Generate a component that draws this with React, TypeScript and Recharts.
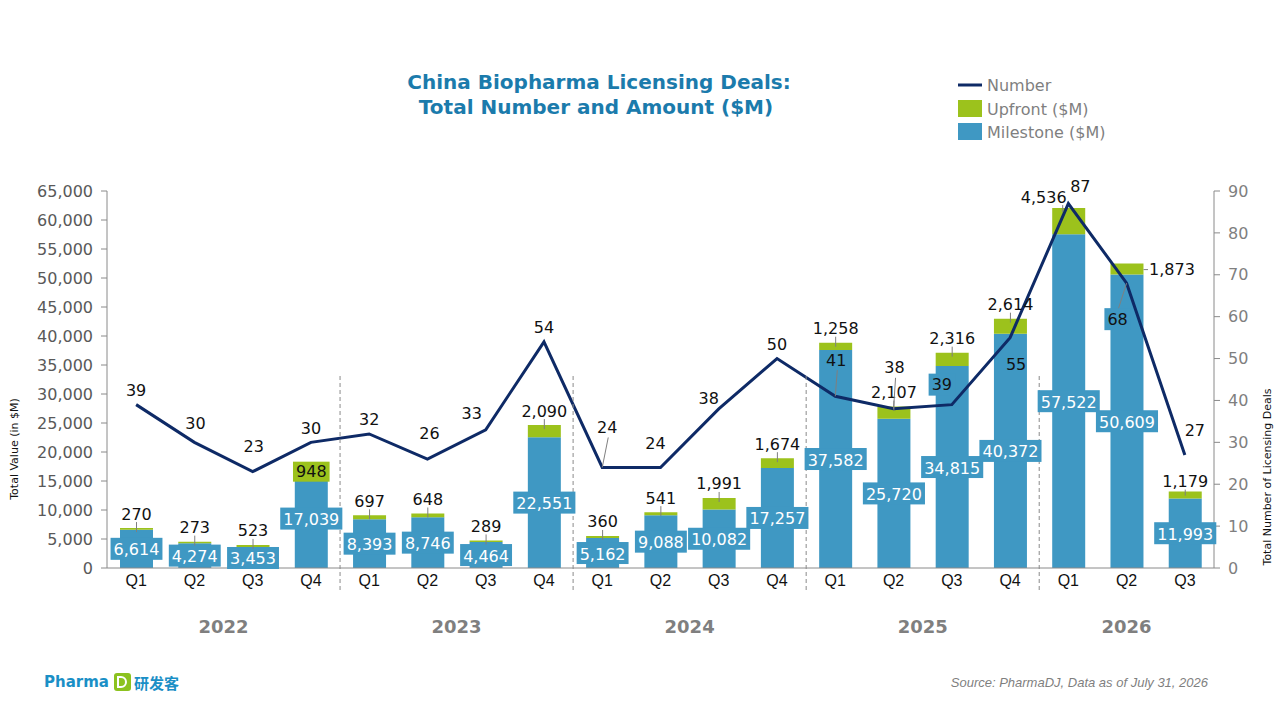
import React from "react";
import { Bar, ComposedChart, LabelList, Line, XAxis, YAxis } from "recharts";

// chart data
const yearLabels = ["2022", "2022", "2022", "2022", "2023", "2023", "2023", "2023", "2024", "2024", "2024", "2024", "2025", "2025", "2025", "2025", "2026", "2026", "2026"];
const quarterLabels = ["Q1", "Q2", "Q3", "Q4", "Q1", "Q2", "Q3", "Q4", "Q1", "Q2", "Q3", "Q4", "Q1", "Q2", "Q3", "Q4", "Q1", "Q2", "Q3"];
const milestone = [6614, 4274, 3453, 17039, 8393, 8746, 4464, 22551, 5162, 9088, 10082, 17257, 37582, 25720, 34815, 40372, 57522, 50609, 11993];
const upfront = [270, 273, 523, 948, 697, 648, 289, 2090, 360, 541, 1991, 1674, 1258, 2107, 2316, 2614, 4536, 1873, 1179];
const dealCount = [39, 30, 23, 30, 32, 26, 33, 54, 24, 24, 38, 50, 41, 38, 39, 55, 87, 68, 27];
const valueTicks = [0, 5000, 10000, 15000, 20000, 25000, 30000, 35000, 40000, 45000, 50000, 55000, 60000, 65000];
const countTicks = [0, 10, 20, 30, 40, 50, 60, 70, 80, 90];

const data = quarterLabels.map((q, i) => ({
  key: `${yearLabels[i]} ${q}`,
  quarter: q,
  year: yearLabels[i],
  milestone: milestone[i],
  upfront: upfront[i],
  count: dealCount[i],
}));

const BLUE = "#3f98c3";
const GREEN = "#9cc21c";
const NAVY = "#0e2a66";
const GREY = "#7f7f7f";
const FONT = "'DejaVu Sans', Verdana, sans-serif";

// layout
const PLOT_LEFT = 107;
const PLOT_RIGHT = 1214;
const BAND = (PLOT_RIGHT - PLOT_LEFT) / quarterLabels.length;

// hand placed labels, like the manual Excel tweaks in the original
const countLabelPos: Record<number, { dx: number; dy: number; box?: boolean; leader?: boolean }> = {
  1: { dx: 1, dy: -19 },
  2: { dx: 1, dy: -25 },
  5: { dx: 2, dy: -26 },
  6: { dx: -14, dy: -16 },
  8: { dx: 5, dy: -40, leader: true },
  9: { dx: -5, dy: -24 },
  10: { dx: -10, dy: -10 },
  12: { dx: 1, dy: -36, leader: true },
  13: { dx: 1, dy: -41, leader: true },
  14: { dx: -10, dy: -20, box: true },
  15: { dx: 6, dy: 27 },
  16: { dx: 12, dy: -17 },
  17: { dx: -9, dy: 36, box: true, leader: true },
  18: { dx: 10, dy: -24 },
};

const upfrontLabelPos: Record<number, { dx: number; dy: number; box?: boolean; side?: boolean }> = {
  3: { dx: 0, dy: 8, box: true },
  16: { dx: -25, dy: -11 },
  17: { dx: 45, dy: 6, side: true },
  18: { dx: 0, dy: -10 },
};

const fmt = (v: number) => v.toLocaleString("en-US");
const textWidth = (s: string) => s.split("").reduce((w, c) => w + (c === "," ? 5.1 : 10.2), 0);

function MilestoneLabel(props: any) {
  const { x, y, width, height, value } = props;
  const s = fmt(value);
  const w = textWidth(s) + 6;
  const cx = x + width / 2;
  const cy = y + height / 2;
  return (
    <g>
      <rect x={cx - w / 2} y={cy - 11} width={w} height={22} fill={BLUE} />
      <text x={cx} y={cy + 1} textAnchor="middle" dominantBaseline="central" fill="#fff" fontSize={16} fontFamily={FONT}>
        {s}
      </text>
    </g>
  );
}

function UpfrontLabel(props: any) {
  const { x, y, width, value, index } = props;
  const s = fmt(value);
  const pos = upfrontLabelPos[index] ?? { dx: 0, dy: -14 };
  const cx = x + width / 2;
  const lx = cx + pos.dx;
  const ly = y + pos.dy;
  const w = textWidth(s) + 6;
  return (
    <g>
      {pos.box && <rect x={lx - w / 2} y={ly - 10} width={w} height={20} fill={GREEN} />}
      {!pos.box && !pos.side && (
        <line x1={pos.dx ? cx - 6 : cx} y1={y + 4} x2={pos.dx ? cx - 6 : cx} y2={ly + 8} stroke={GREY} strokeWidth={1} />
      )}
      {pos.side && <line x1={x + width} y1={ly} x2={lx - w / 2 + 2} y2={ly} stroke={GREY} strokeWidth={1} />}
      <text x={lx} y={ly} textAnchor="middle" dominantBaseline="central" fill="#111" fontSize={16} fontFamily={FONT}>
        {s}
      </text>
    </g>
  );
}

function CountLabel(props: any) {
  const { x, y, value, index } = props;
  const s = String(value);
  const pos = countLabelPos[index] ?? { dx: 0, dy: -14 };
  const lx = x + pos.dx;
  const ly = y + pos.dy;
  const w = textWidth(s) + 6;
  return (
    <g>
      {pos.box && <rect x={lx - w / 2} y={ly - 11} width={w} height={22} fill={BLUE} />}
      {pos.leader && (
        <line x1={lx + 1} y1={pos.dy < 0 ? ly + 10 : ly - 11} x2={x} y2={y} stroke={GREY} strokeWidth={1} />
      )}
      <text x={lx} y={ly} textAnchor="middle" dominantBaseline="central" fill="#111" fontSize={16} fontFamily={FONT}>
        {s}
      </text>
    </g>
  );
}

function QuarterTick(props: any) {
  const { x, y, payload } = props;
  const i = payload.index;
  const year = yearLabels[i];
  const first = i === 0 || yearLabels[i - 1] !== year;
  const members = yearLabels.map((v, k) => (v === year ? k : -1)).filter((k) => k >= 0);
  const mid = members.reduce((a, b) => a + b, 0) / members.length;
  return (
    <g>
      <text x={x} y={y + 12} textAnchor="middle" dominantBaseline="central" fill="#111" fontSize={16} fontFamily="'Liberation Sans', Arial, sans-serif">
        {quarterLabels[i]}
      </text>
      {first && (
        <text x={x + (mid - i) * BAND} y={y + 58} textAnchor="middle" dominantBaseline="central" fill={GREY} fontSize={18} fontWeight="bold" fontFamily={FONT}>
          {year}
        </text>
      )}
      {first && i > 0 && (
        <line x1={x - BAND / 2} y1={y - 192} x2={x - BAND / 2} y2={y + 22} stroke="#8a8a8a" strokeWidth={1} strokeDasharray="4 3" />
      )}
    </g>
  );
}

function Overlay() {
  return (
    <svg width={1280} height={720} style={{ position: "absolute", left: 0, top: 0, pointerEvents: "none" }}>
      <text x={599} y={82} textAnchor="middle" dominantBaseline="central" fill="#1b7bac" fontSize={20} fontWeight="bold" fontFamily={FONT}>
        China Biopharma Licensing Deals:
      </text>
      <text x={596} y={107} textAnchor="middle" dominantBaseline="central" fill="#1b7bac" fontSize={20} fontWeight="bold" fontFamily={FONT}>
        Total Number and Amount ($M)
      </text>

      <line x1={958} y1={85} x2={982} y2={85} stroke={NAVY} strokeWidth={3} />
      <rect x={958} y={100} width={24} height={17} fill={GREEN} />
      <rect x={958} y={123} width={24} height={17} fill={BLUE} />
      <text x={987} y={85} dominantBaseline="central" fill={GREY} fontSize={16} fontFamily={FONT}>Number</text>
      <text x={987} y={109} dominantBaseline="central" fill={GREY} fontSize={16} fontFamily={FONT}>Upfront ($M)</text>
      <text x={987} y={132} dominantBaseline="central" fill={GREY} fontSize={16} fontFamily={FONT}>Milestone ($M)</text>

      <text transform="translate(14,449) rotate(-90)" textAnchor="middle" dominantBaseline="central" fill="#111" fontSize={11} fontFamily={FONT}>
        Total Value (in $M)
      </text>
      <text transform="translate(1267,477) rotate(-90)" textAnchor="middle" dominantBaseline="central" fill="#111" fontSize={11} fontFamily={FONT}>
        Total Number of Licensing Deals
      </text>

      <text x={44} y={682} dominantBaseline="central" fill="#1a8fc6" fontSize={15} fontWeight="bold" fontFamily={FONT}>Pharma</text>
      <rect x={114} y={673} width={17} height={18} rx={3} fill="#8cc21f" />
      <path d="M118 677 h3 a5 5 0 0 1 0 10 h-3 z" fill="none" stroke="#fff" strokeWidth={2} />
      <text x={134} y={682} dominantBaseline="central" fill="#1a8fc6" fontSize={15} fontWeight="bold" fontFamily="'Noto Sans CJK SC', sans-serif">研发客</text>

      <text x={1208} y={682} textAnchor="end" dominantBaseline="central" fill={GREY} fontSize={13} fontStyle="italic" fontFamily="'Liberation Sans', Arial, sans-serif">
        Source: PharmaDJ, Data as of July 31, 2026
      </text>
    </svg>
  );
}

export default function App() {
  return (
    <div style={{ position: "absolute", left: 0, top: 0, width: 1280, height: 720, background: "#fff" }}>
      <ComposedChart width={1280} height={720} data={data} margin={{ top: 191, right: 6, bottom: 122, left: 47 }}>
        <XAxis dataKey="key" height={30} interval={0} tick={<QuarterTick />} tickLine={false} tickSize={0} tickMargin={0} axisLine={{ stroke: "#8a8a8a" }} />
        <YAxis
          yAxisId="value"
          width={60}
          domain={[0, 65000]}
          ticks={valueTicks}
          tickFormatter={fmt}
          tick={{ fill: "#595959", fontSize: 16, fontFamily: FONT }}
          tickSize={6}
          tickMargin={8}
          axisLine={{ stroke: "#8a8a8a" }}
          tickLine={{ stroke: "#8a8a8a" }}
        />
        <YAxis
          yAxisId="count"
          orientation="right"
          width={60}
          domain={[0, 90]}
          ticks={countTicks}
          tick={{ fill: GREY, fontSize: 16, fontFamily: FONT }}
          tickSize={6}
          tickMargin={8}
          axisLine={{ stroke: "#8a8a8a" }}
          tickLine={{ stroke: "#8a8a8a" }}
        />
        <Bar yAxisId="value" dataKey="milestone" stackId="deal" fill={BLUE} barSize={33} isAnimationActive={false}>
          <LabelList dataKey="milestone" content={<MilestoneLabel />} />
        </Bar>
        <Bar yAxisId="value" dataKey="upfront" stackId="deal" fill={GREEN} barSize={33} isAnimationActive={false}>
          <LabelList dataKey="upfront" content={<UpfrontLabel />} />
        </Bar>
        <Line yAxisId="count" dataKey="count" stroke={NAVY} strokeWidth={3} dot={false} isAnimationActive={false}>
          <LabelList dataKey="count" content={<CountLabel />} />
        </Line>
      </ComposedChart>
      <Overlay />
    </div>
  );
}
